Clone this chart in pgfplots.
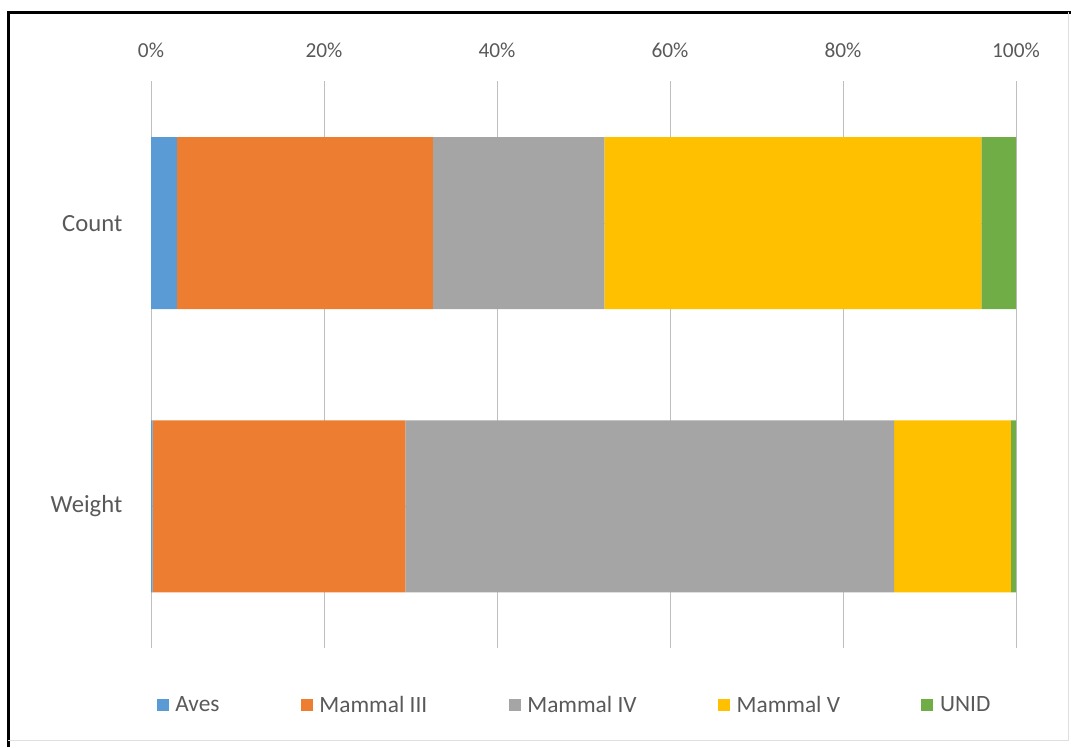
\documentclass[border=0pt]{standalone}
\usepackage{pgfplots}
\pgfplotsset{compat=1.18}
\usepackage{fontspec}
\setmainfont{Carlito}
\definecolor{cAves}{RGB}{91,155,213}
\definecolor{cMIII}{RGB}{237,125,49}
\definecolor{cMIV}{RGB}{165,165,165}
\definecolor{cMV}{RGB}{255,192,0}
\definecolor{cUNID}{RGB}{112,173,71}
\definecolor{txt}{RGB}{89,89,89}
\definecolor{grid}{RGB}{217,217,217}
\begin{document}
\begin{tikzpicture}
\path[use as bounding box] (0,0) rectangle (803.25pt,-560.25pt);
\draw[black, line width=2.25pt] (6pt,-560.25pt) -- (6pt,-9pt) -- (803.25pt,-9pt);
\draw[gray!25, line width=0.75pt] (801pt,-9pt) -- (801pt,-555pt) -- (6pt,-555pt);
\begin{axis}[
  at={(113.25pt,-486pt)}, anchor=south west,
  scale only axis, width=648.75pt, height=424.9pt,
  xbar stacked, bar width=0.607,
  xmin=0, xmax=100, ymin=-0.5, ymax=1.5,
  xtick={0,20,40,60,80,100},
  xticklabels={0\%,20\%,40\%,60\%,80\%,100\%},
  xticklabel pos=right,
  ytick={0,1}, yticklabels={Weight,Count},
  axis line style={draw=none},
  major tick length=0pt,
  xmajorgrids, major grid style={grid, line width=0.75pt},
  xticklabel style={font=\fontsize{16}{19}\selectfont, text=txt, yshift=14pt},
  yticklabel style={font=\fontsize{18.5}{22}\selectfont, text=txt, xshift=-18pt},
  /pgf/number format/assume math mode=true,
  legend columns=5,
  legend style={at={(rel axis cs:0.49,0)}, anchor=center, yshift=-42.75pt,
    draw=none, fill=none, font=\fontsize{17.5}{21}\selectfont, text=txt,
    /tikz/every odd column/.append style={column sep=3pt},
    /tikz/every even column/.append style={column sep=59pt}},
  legend image code/.code={\fill[#1] (0pt,-4.5pt) rectangle (9pt,4.5pt);},
  legend cell align=left,
]
\addplot[fill=cAves, draw=none] coordinates {(3.0,1) (0.2,0)};
\addplot[fill=cMIII, draw=none] coordinates {(29.6,1) (29.2,0)};
\addplot[fill=cMIV, draw=none] coordinates {(19.8,1) (56.5,0)};
\addplot[fill=cMV, draw=none] coordinates {(43.6,1) (13.5,0)};
\addplot[fill=cUNID, draw=none] coordinates {(4.0,1) (0.6,0)};
\legend{Aves,Mammal III,Mammal IV,Mammal V,UNID}
\end{axis}
\end{tikzpicture}
\end{document}
